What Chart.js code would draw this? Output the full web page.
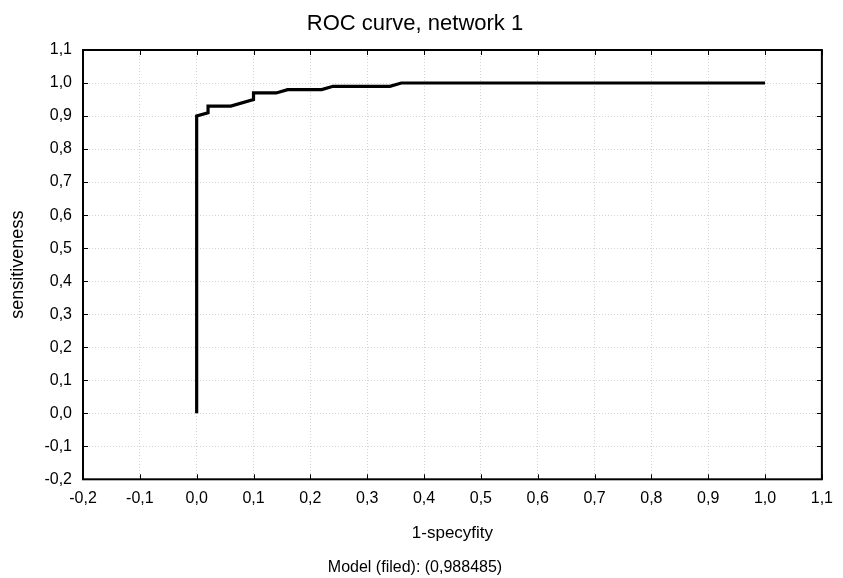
<!DOCTYPE html>
<html>
<head>
<meta charset="utf-8">
<title>ROC curve, network 1</title>
<script src="https://cdn.jsdelivr.net/npm/chart.js@4/dist/chart.umd.min.js"></script>
<style>
    body{ margin:0; background:#fff; }
    #roc{ display:block; }
</style>
</head>
<body>
<canvas id="roc" width="843" height="578"></canvas>
<script>
/****
data
*****/
const fpr = [0, 0, 0.02, 0.02, 0.06, 0.10, 0.10, 0.14, 0.16, 0.22, 0.24, 0.34, 0.36, 1.0]; // 1-specyfity
const tpr = [0, 0.90, 0.91, 0.93, 0.93, 0.95, 0.97, 0.97, 0.98, 0.98, 0.99, 0.99, 1.0, 1.0]; // sensitiveness
const tickValues = [-0.2, -0.1, 0.0, 0.1, 0.2, 0.3, 0.4, 0.5, 0.6, 0.7, 0.8, 0.9, 1.0, 1.1];
const tickLabels = ['-0,2', '-0,1', '0,0', '0,1', '0,2', '0,3', '0,4', '0,5', '0,6', '0,7', '0,8', '0,9', '1,0', '1,1'];
const titleText    = 'ROC curve, network 1';
const xTitleText   = '1-specyfity';
const yTitleText   = 'sensitiveness';
const subtitleText = 'Model (filed): (0,988485)';

/* points for the line */
let points = [];
for(let i = 0; i < fpr.length; i++){
    points.push({x: fpr[i], y: tpr[i]});
};

/* setting */
const fontFamily = '"Liberation Sans", Arial, sans-serif';
const gridSetting = {
    color: '#d4d4d4',
    lineWidth: 1,
    drawTicks: false
};
const borderSetting = {
    display: false,
    dash: [1, 2] // v4: dash of the grid lines
};
const setTicks = (scale)=>{
    scale.ticks = tickValues.map(v => ({value: v}));
};

/* frame + inward tick marks */
const framePlugin = {
    id: 'frame',
    afterDraw: (chart)=>{
        let ctx  = chart.ctx;
        let area = chart.chartArea;
        let xs   = chart.scales.x;
        let ys   = chart.scales.y;
        ctx.save();
        ctx.strokeStyle = '#000';
        ctx.lineWidth = 1;
        ctx.beginPath();
        for(let i = 0; i < tickValues.length; i++){
            let px = Math.round(xs.getPixelForValue(tickValues[i])) + 0.5;
            let py = Math.round(ys.getPixelForValue(tickValues[i])) + 0.5;
            ctx.moveTo(px, area.bottom); ctx.lineTo(px, area.bottom - 5);
            ctx.moveTo(px, area.top);    ctx.lineTo(px, area.top + 5);
            ctx.moveTo(area.left, py);   ctx.lineTo(area.left + 5, py);
            ctx.moveTo(area.right, py);  ctx.lineTo(area.right - 5, py);
        };
        ctx.stroke();
        ctx.lineWidth = 2;
        ctx.strokeRect(area.left, area.top, area.right - area.left, area.bottom - area.top);
        ctx.restore();
    }
};

/*****
chart
******/
let ctx_roc   = document.querySelector('#roc').getContext('2d');
let chart_roc = new Chart(ctx_roc, {
    type: 'line',
    data: {
        datasets: [{
            label: 'ROC',
            data: points,
            borderColor: '#000',
            borderWidth: 3.2,
            pointRadius: 0,
            tension: 0,
            fill: false
        }]
    },
    options: {
        responsive: false,
        animation: false,
        devicePixelRatio: 1,
        layout: {
            padding: {left: 0, right: 13, top: 0, bottom: 0}
        },
        scales: {
            x: {
                type: 'linear',
                min: -0.2,
                max: 1.1,
                afterBuildTicks: setTicks,
                afterFit: (scale)=>{ scale.height = 78.5; },
                grid: gridSetting,
                border: borderSetting,
                ticks: {
                    color: '#000',
                    font: {family: fontFamily, size: 16},
                    padding: 10,
                    maxRotation: 0,
                    autoSkip: false,
                    callback: (value, index)=> tickLabels[index]
                },
                title: {
                    display: true,
                    text: xTitleText,
                    color: '#000',
                    font: {family: fontFamily, size: 17},
                    padding: {top: 0, bottom: 14}
                }
            },
            y: {
                type: 'linear',
                min: -0.2,
                max: 1.1,
                afterBuildTicks: setTicks,
                afterFit: (scale)=>{ scale.width = 83; },
                grid: gridSetting,
                border: borderSetting,
                ticks: {
                    color: '#000',
                    font: {family: fontFamily, size: 16},
                    padding: 11,
                    autoSkip: false,
                    callback: (value, index)=> tickLabels[index]
                },
                title: {
                    display: true,
                    text: yTitleText,
                    color: '#000',
                    font: {family: fontFamily, size: 18},
                    padding: {top: 7, bottom: 0}
                }
            }
        },
        plugins: {
            legend: {display: false},
            tooltip: {enabled: false},
            title: {
                display: true,
                text: titleText,
                color: '#000',
                font: {family: fontFamily, size: 22, weight: 'normal'},
                padding: {top: 11, bottom: 12.6}
            },
            subtitle: {
                display: true,
                position: 'bottom',
                text: subtitleText,
                color: '#000',
                font: {family: fontFamily, size: 16, weight: 'normal'},
                padding: {top: 0, bottom: 1}
            }
        }
    },
    plugins: [framePlugin]
});
</script>
</body>
</html>
